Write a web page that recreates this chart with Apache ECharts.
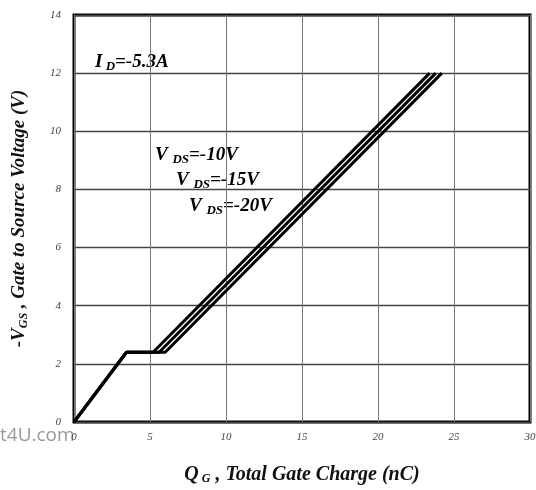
<!DOCTYPE html>
<html>
<head>
<meta charset="utf-8">
<script src="https://cdn.jsdelivr.net/npm/echarts@6/dist/echarts.min.js"></script>
<style>
  html, body { margin: 0; padding: 0; background: #fff; }
  #chart { width: 536px; height: 490px; }
</style>
</head>
<body>
<div id="chart"></div>
<script>
// Gate charge curves: -VGS versus QG for three drain-source voltages
const xTicks = [0, 5, 10, 15, 20, 25, 30];
const yTicks = [0, 2, 4, 6, 8, 10, 12, 14];
const vdsLabels = ['-10V', '-15V', '-20V'];
const curve10 = [[0, 0], [3.45, 2.4], [5.2, 2.4], [23.4, 12]];
const curve15 = [[0, 0], [3.45, 2.4], [5.6, 2.4], [23.8, 12]];
const curve20 = [[0, 0], [3.45, 2.4], [6.0, 2.4], [24.2, 12]];
const curves = [curve10, curve15, curve20];

const serif = '"Liberation Serif", "DejaVu Serif", serif';
const chart = echarts.init(document.getElementById('chart'));

function richSet(big, small, pad) {
  return {
    b: { fontFamily: serif, fontStyle: 'italic', fontWeight: 'bold', fontSize: big, color: '#111' },
    s: { fontFamily: serif, fontStyle: 'italic', fontWeight: 'bold', fontSize: small, color: '#111', padding: [pad, 0, 0, 0] }
  };
}
const labelRich = richSet(19, 13, 9);
const xNameRich = richSet(20, 12, 9);
const yNameRich = richSet(19, 12, 9);

const vdsPos = [[155, 157], [176, 182], [189, 208]];

chart.setOption({
  animation: false,
  backgroundColor: '#fff',
  grid: {
    left: 74, top: 15, right: 6, bottom: 68,
    outerBoundsMode: 'none', containLabel: false,
    show: true, borderColor: '#000', borderWidth: 3
  },
  xAxis: {
    type: 'value', min: 0, max: 30, interval: 5,
    name: '{b|Q}{s| G}{b| , Total Gate Charge (nC)}',
    nameLocation: 'middle', nameGap: 42,
    nameTextStyle: { rich: xNameRich },
    axisLine: { show: false },
    axisTick: { show: false },
    axisLabel: { fontFamily: serif, fontStyle: 'italic', fontSize: 11, color: '#444', margin: 10 },
    splitLine: { show: true, lineStyle: { color: '#777', width: 1 } }
  },
  yAxis: {
    type: 'value', min: 0, max: 14, interval: 2,
    name: '{b|-V}{s|GS}{b| , Gate to Source Voltage (V)}',
    nameLocation: 'middle', nameGap: 44, nameRotate: 90,
    nameTextStyle: { rich: yNameRich },
    axisLine: { show: false },
    axisTick: { show: false },
    axisLabel: { fontFamily: serif, fontStyle: 'italic', fontSize: 11, color: '#444', margin: 13 },
    splitLine: { show: true, lineStyle: { color: '#444', width: 1.3 } }
  },
  series: curves.map(c => ({
    type: 'line', data: c, showSymbol: false, silent: true,
    lineStyle: { color: '#000', width: 3 }
  })),
  graphic: [
    {
      type: 'text', left: 95, top: 53,
      style: { text: '{b|I}{s| D}{b|=-5.3A}', rich: labelRich }
    },
    ...vdsLabels.map((v, i) => ({
      type: 'text', left: vdsPos[i][0], top: vdsPos[i][1] - 11,
      style: { text: '{b|V }{s|DS}{b|=' + v + '}', rich: labelRich }
    })),
    {
      type: 'text', left: 0, top: 426,
      style: { text: 't4U.com', font: '19px "Open Sans", "DejaVu Sans", sans-serif', fill: '#999' }
    }
  ]
});
</script>
</body>
</html>
